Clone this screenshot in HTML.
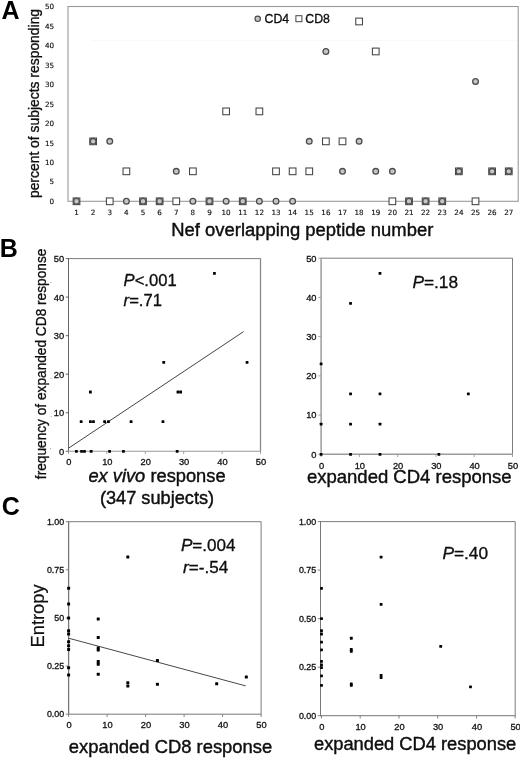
<!DOCTYPE html>
<html lang="en">
<head>
<meta charset="utf-8">
<title>Figure</title>
<style>
html,body{margin:0;padding:0;background:#fff;}
svg{display:block;will-change:transform;}
</style>
</head>
<body>
<svg width="520" height="758" viewBox="0 0 520 758">
<rect width="520" height="758" fill="#fff"/>
<rect x="68.0" y="6.5" width="450.20000000000005" height="194.8" fill="none" stroke="#9a9a9a" stroke-width="1.1"/>
<text x="54.2" y="203.9" font-family='"DejaVu Sans", "Liberation Sans", sans-serif' font-size="7.2" text-anchor="end" fill="#111" stroke="#111" stroke-width="0.15">0</text>
<text x="54.2" y="184.4" font-family='"DejaVu Sans", "Liberation Sans", sans-serif' font-size="7.2" text-anchor="end" fill="#111" stroke="#111" stroke-width="0.15">5</text>
<text x="54.2" y="164.9" font-family='"DejaVu Sans", "Liberation Sans", sans-serif' font-size="7.2" text-anchor="end" fill="#111" stroke="#111" stroke-width="0.15">10</text>
<text x="54.2" y="145.5" font-family='"DejaVu Sans", "Liberation Sans", sans-serif' font-size="7.2" text-anchor="end" fill="#111" stroke="#111" stroke-width="0.15">15</text>
<text x="54.2" y="126.0" font-family='"DejaVu Sans", "Liberation Sans", sans-serif' font-size="7.2" text-anchor="end" fill="#111" stroke="#111" stroke-width="0.15">20</text>
<text x="54.2" y="106.5" font-family='"DejaVu Sans", "Liberation Sans", sans-serif' font-size="7.2" text-anchor="end" fill="#111" stroke="#111" stroke-width="0.15">25</text>
<text x="54.2" y="87.0" font-family='"DejaVu Sans", "Liberation Sans", sans-serif' font-size="7.2" text-anchor="end" fill="#111" stroke="#111" stroke-width="0.15">30</text>
<text x="54.2" y="67.5" font-family='"DejaVu Sans", "Liberation Sans", sans-serif' font-size="7.2" text-anchor="end" fill="#111" stroke="#111" stroke-width="0.15">35</text>
<text x="54.2" y="48.1" font-family='"DejaVu Sans", "Liberation Sans", sans-serif' font-size="7.2" text-anchor="end" fill="#111" stroke="#111" stroke-width="0.15">40</text>
<text x="54.2" y="28.6" font-family='"DejaVu Sans", "Liberation Sans", sans-serif' font-size="7.2" text-anchor="end" fill="#111" stroke="#111" stroke-width="0.15">45</text>
<text x="54.2" y="9.1" font-family='"DejaVu Sans", "Liberation Sans", sans-serif' font-size="7.2" text-anchor="end" fill="#111" stroke="#111" stroke-width="0.15">50</text>
<text x="76.5" y="214.8" font-family='"DejaVu Sans", "Liberation Sans", sans-serif' font-size="7.2" text-anchor="middle" fill="#111" stroke="#111" stroke-width="0.15">1</text>
<text x="93.1" y="214.8" font-family='"DejaVu Sans", "Liberation Sans", sans-serif' font-size="7.2" text-anchor="middle" fill="#111" stroke="#111" stroke-width="0.15">2</text>
<text x="109.8" y="214.8" font-family='"DejaVu Sans", "Liberation Sans", sans-serif' font-size="7.2" text-anchor="middle" fill="#111" stroke="#111" stroke-width="0.15">3</text>
<text x="126.4" y="214.8" font-family='"DejaVu Sans", "Liberation Sans", sans-serif' font-size="7.2" text-anchor="middle" fill="#111" stroke="#111" stroke-width="0.15">4</text>
<text x="143.0" y="214.8" font-family='"DejaVu Sans", "Liberation Sans", sans-serif' font-size="7.2" text-anchor="middle" fill="#111" stroke="#111" stroke-width="0.15">5</text>
<text x="159.6" y="214.8" font-family='"DejaVu Sans", "Liberation Sans", sans-serif' font-size="7.2" text-anchor="middle" fill="#111" stroke="#111" stroke-width="0.15">6</text>
<text x="176.2" y="214.8" font-family='"DejaVu Sans", "Liberation Sans", sans-serif' font-size="7.2" text-anchor="middle" fill="#111" stroke="#111" stroke-width="0.15">7</text>
<text x="192.9" y="214.8" font-family='"DejaVu Sans", "Liberation Sans", sans-serif' font-size="7.2" text-anchor="middle" fill="#111" stroke="#111" stroke-width="0.15">8</text>
<text x="209.5" y="214.8" font-family='"DejaVu Sans", "Liberation Sans", sans-serif' font-size="7.2" text-anchor="middle" fill="#111" stroke="#111" stroke-width="0.15">9</text>
<text x="226.1" y="214.8" font-family='"DejaVu Sans", "Liberation Sans", sans-serif' font-size="7.2" text-anchor="middle" fill="#111" stroke="#111" stroke-width="0.15">10</text>
<text x="242.8" y="214.8" font-family='"DejaVu Sans", "Liberation Sans", sans-serif' font-size="7.2" text-anchor="middle" fill="#111" stroke="#111" stroke-width="0.15">11</text>
<text x="259.4" y="214.8" font-family='"DejaVu Sans", "Liberation Sans", sans-serif' font-size="7.2" text-anchor="middle" fill="#111" stroke="#111" stroke-width="0.15">12</text>
<text x="276.0" y="214.8" font-family='"DejaVu Sans", "Liberation Sans", sans-serif' font-size="7.2" text-anchor="middle" fill="#111" stroke="#111" stroke-width="0.15">13</text>
<text x="292.6" y="214.8" font-family='"DejaVu Sans", "Liberation Sans", sans-serif' font-size="7.2" text-anchor="middle" fill="#111" stroke="#111" stroke-width="0.15">14</text>
<text x="309.2" y="214.8" font-family='"DejaVu Sans", "Liberation Sans", sans-serif' font-size="7.2" text-anchor="middle" fill="#111" stroke="#111" stroke-width="0.15">15</text>
<text x="325.9" y="214.8" font-family='"DejaVu Sans", "Liberation Sans", sans-serif' font-size="7.2" text-anchor="middle" fill="#111" stroke="#111" stroke-width="0.15">16</text>
<text x="342.5" y="214.8" font-family='"DejaVu Sans", "Liberation Sans", sans-serif' font-size="7.2" text-anchor="middle" fill="#111" stroke="#111" stroke-width="0.15">17</text>
<text x="359.1" y="214.8" font-family='"DejaVu Sans", "Liberation Sans", sans-serif' font-size="7.2" text-anchor="middle" fill="#111" stroke="#111" stroke-width="0.15">18</text>
<text x="375.8" y="214.8" font-family='"DejaVu Sans", "Liberation Sans", sans-serif' font-size="7.2" text-anchor="middle" fill="#111" stroke="#111" stroke-width="0.15">19</text>
<text x="392.4" y="214.8" font-family='"DejaVu Sans", "Liberation Sans", sans-serif' font-size="7.2" text-anchor="middle" fill="#111" stroke="#111" stroke-width="0.15">20</text>
<text x="409.0" y="214.8" font-family='"DejaVu Sans", "Liberation Sans", sans-serif' font-size="7.2" text-anchor="middle" fill="#111" stroke="#111" stroke-width="0.15">21</text>
<text x="425.6" y="214.8" font-family='"DejaVu Sans", "Liberation Sans", sans-serif' font-size="7.2" text-anchor="middle" fill="#111" stroke="#111" stroke-width="0.15">22</text>
<text x="442.2" y="214.8" font-family='"DejaVu Sans", "Liberation Sans", sans-serif' font-size="7.2" text-anchor="middle" fill="#111" stroke="#111" stroke-width="0.15">23</text>
<text x="458.9" y="214.8" font-family='"DejaVu Sans", "Liberation Sans", sans-serif' font-size="7.2" text-anchor="middle" fill="#111" stroke="#111" stroke-width="0.15">24</text>
<text x="475.5" y="214.8" font-family='"DejaVu Sans", "Liberation Sans", sans-serif' font-size="7.2" text-anchor="middle" fill="#111" stroke="#111" stroke-width="0.15">25</text>
<text x="492.1" y="214.8" font-family='"DejaVu Sans", "Liberation Sans", sans-serif' font-size="7.2" text-anchor="middle" fill="#111" stroke="#111" stroke-width="0.15">26</text>
<text x="508.8" y="214.8" font-family='"DejaVu Sans", "Liberation Sans", sans-serif' font-size="7.2" text-anchor="middle" fill="#111" stroke="#111" stroke-width="0.15">27</text>
<rect x="73.15" y="197.95" width="6.7" height="6.7" fill="#fff" stroke="#444" stroke-width="1.05"/>
<rect x="89.78" y="138.01" width="6.7" height="6.7" fill="#fff" stroke="#444" stroke-width="1.05"/>
<rect x="106.40" y="197.95" width="6.7" height="6.7" fill="#fff" stroke="#444" stroke-width="1.05"/>
<rect x="123.03" y="167.98" width="6.7" height="6.7" fill="#fff" stroke="#444" stroke-width="1.05"/>
<rect x="139.65" y="197.95" width="6.7" height="6.7" fill="#fff" stroke="#444" stroke-width="1.05"/>
<rect x="156.28" y="197.95" width="6.7" height="6.7" fill="#fff" stroke="#444" stroke-width="1.05"/>
<rect x="172.90" y="197.95" width="6.7" height="6.7" fill="#fff" stroke="#444" stroke-width="1.05"/>
<rect x="189.53" y="167.98" width="6.7" height="6.7" fill="#fff" stroke="#444" stroke-width="1.05"/>
<rect x="206.15" y="197.95" width="6.7" height="6.7" fill="#fff" stroke="#444" stroke-width="1.05"/>
<rect x="222.78" y="108.04" width="6.7" height="6.7" fill="#fff" stroke="#444" stroke-width="1.05"/>
<rect x="239.40" y="197.95" width="6.7" height="6.7" fill="#fff" stroke="#444" stroke-width="1.05"/>
<rect x="256.02" y="108.04" width="6.7" height="6.7" fill="#fff" stroke="#444" stroke-width="1.05"/>
<rect x="272.65" y="167.98" width="6.7" height="6.7" fill="#fff" stroke="#444" stroke-width="1.05"/>
<rect x="289.27" y="167.98" width="6.7" height="6.7" fill="#fff" stroke="#444" stroke-width="1.05"/>
<rect x="305.90" y="167.98" width="6.7" height="6.7" fill="#fff" stroke="#444" stroke-width="1.05"/>
<rect x="322.52" y="138.01" width="6.7" height="6.7" fill="#fff" stroke="#444" stroke-width="1.05"/>
<rect x="339.15" y="138.01" width="6.7" height="6.7" fill="#fff" stroke="#444" stroke-width="1.05"/>
<rect x="355.77" y="18.13" width="6.7" height="6.7" fill="#fff" stroke="#444" stroke-width="1.05"/>
<rect x="372.40" y="48.10" width="6.7" height="6.7" fill="#fff" stroke="#444" stroke-width="1.05"/>
<rect x="389.02" y="197.95" width="6.7" height="6.7" fill="#fff" stroke="#444" stroke-width="1.05"/>
<rect x="405.65" y="197.95" width="6.7" height="6.7" fill="#fff" stroke="#444" stroke-width="1.05"/>
<rect x="422.27" y="197.95" width="6.7" height="6.7" fill="#fff" stroke="#444" stroke-width="1.05"/>
<rect x="438.90" y="197.95" width="6.7" height="6.7" fill="#fff" stroke="#444" stroke-width="1.05"/>
<rect x="455.52" y="167.98" width="6.7" height="6.7" fill="#fff" stroke="#444" stroke-width="1.05"/>
<rect x="472.15" y="197.95" width="6.7" height="6.7" fill="#fff" stroke="#444" stroke-width="1.05"/>
<rect x="488.77" y="167.98" width="6.7" height="6.7" fill="#fff" stroke="#444" stroke-width="1.05"/>
<rect x="505.40" y="167.98" width="6.7" height="6.7" fill="#fff" stroke="#444" stroke-width="1.05"/>
<circle cx="76.50" cy="201.30" r="2.85" fill="#c6c6c6" stroke="#4c4c4c" stroke-width="1.3"/>
<circle cx="93.12" cy="141.36" r="2.85" fill="#c6c6c6" stroke="#4c4c4c" stroke-width="1.3"/>
<circle cx="109.75" cy="141.36" r="2.85" fill="#c6c6c6" stroke="#4c4c4c" stroke-width="1.3"/>
<circle cx="126.38" cy="201.30" r="2.85" fill="#c6c6c6" stroke="#4c4c4c" stroke-width="1.3"/>
<circle cx="143.00" cy="201.30" r="2.85" fill="#c6c6c6" stroke="#4c4c4c" stroke-width="1.3"/>
<circle cx="159.62" cy="201.30" r="2.85" fill="#c6c6c6" stroke="#4c4c4c" stroke-width="1.3"/>
<circle cx="176.25" cy="171.33" r="2.85" fill="#c6c6c6" stroke="#4c4c4c" stroke-width="1.3"/>
<circle cx="192.88" cy="201.30" r="2.85" fill="#c6c6c6" stroke="#4c4c4c" stroke-width="1.3"/>
<circle cx="209.50" cy="201.30" r="2.85" fill="#c6c6c6" stroke="#4c4c4c" stroke-width="1.3"/>
<circle cx="226.12" cy="201.30" r="2.85" fill="#c6c6c6" stroke="#4c4c4c" stroke-width="1.3"/>
<circle cx="242.75" cy="201.30" r="2.85" fill="#c6c6c6" stroke="#4c4c4c" stroke-width="1.3"/>
<circle cx="259.38" cy="201.30" r="2.85" fill="#c6c6c6" stroke="#4c4c4c" stroke-width="1.3"/>
<circle cx="276.00" cy="201.30" r="2.85" fill="#c6c6c6" stroke="#4c4c4c" stroke-width="1.3"/>
<circle cx="292.62" cy="201.30" r="2.85" fill="#c6c6c6" stroke="#4c4c4c" stroke-width="1.3"/>
<circle cx="309.25" cy="141.36" r="2.85" fill="#c6c6c6" stroke="#4c4c4c" stroke-width="1.3"/>
<circle cx="325.88" cy="51.45" r="2.85" fill="#c6c6c6" stroke="#4c4c4c" stroke-width="1.3"/>
<circle cx="342.50" cy="171.33" r="2.85" fill="#c6c6c6" stroke="#4c4c4c" stroke-width="1.3"/>
<circle cx="359.12" cy="141.36" r="2.85" fill="#c6c6c6" stroke="#4c4c4c" stroke-width="1.3"/>
<circle cx="375.75" cy="171.33" r="2.85" fill="#c6c6c6" stroke="#4c4c4c" stroke-width="1.3"/>
<circle cx="392.38" cy="171.33" r="2.85" fill="#c6c6c6" stroke="#4c4c4c" stroke-width="1.3"/>
<circle cx="409.00" cy="201.30" r="2.85" fill="#c6c6c6" stroke="#4c4c4c" stroke-width="1.3"/>
<circle cx="425.62" cy="201.30" r="2.85" fill="#c6c6c6" stroke="#4c4c4c" stroke-width="1.3"/>
<circle cx="442.25" cy="201.30" r="2.85" fill="#c6c6c6" stroke="#4c4c4c" stroke-width="1.3"/>
<circle cx="458.88" cy="171.33" r="2.85" fill="#c6c6c6" stroke="#4c4c4c" stroke-width="1.3"/>
<circle cx="475.50" cy="81.42" r="2.85" fill="#c6c6c6" stroke="#4c4c4c" stroke-width="1.3"/>
<circle cx="492.12" cy="171.33" r="2.85" fill="#c6c6c6" stroke="#4c4c4c" stroke-width="1.3"/>
<circle cx="508.75" cy="171.33" r="2.85" fill="#c6c6c6" stroke="#4c4c4c" stroke-width="1.3"/>
<line x1="92" y1="40.5" x2="517" y2="40.5" stroke="#f9f9f9" stroke-width="1"/>
<circle cx="257.7" cy="18.8" r="2.7" fill="#c6c6c6" stroke="#4c4c4c" stroke-width="1.2"/>
<text x="264.5" y="22.7" font-family='"Liberation Sans", Arial, sans-serif' font-size="12.3" text-anchor="start" fill="#111" stroke="#000" stroke-width="0.3">CD4</text>
<rect x="295.9" y="15.7" width="6" height="6" fill="#fff" stroke="#444" stroke-width="1"/>
<text x="305.3" y="22.7" font-family='"Liberation Sans", Arial, sans-serif' font-size="12.3" text-anchor="start" fill="#111" stroke="#000" stroke-width="0.3">CD8</text>
<text transform="translate(38.6,103.5) rotate(-90)" font-family='"Liberation Sans", Arial, sans-serif' font-size="13.9" text-anchor="middle" fill="#111" stroke="#000" stroke-width="0.3">percent of subjects responding</text>
<text x="302.3" y="235.6" font-family='"Liberation Sans", Arial, sans-serif' font-size="18.42" text-anchor="middle" fill="#111" stroke="#000" stroke-width="0.38">Nef overlapping peptide number</text>
<text x="1.5" y="19.2" font-family='"Liberation Sans", Arial, sans-serif' font-size="25" font-weight="bold" fill="#000">A</text>
<text x="-0.2" y="257" font-family='"Liberation Sans", Arial, sans-serif' font-size="25" font-weight="bold" fill="#000">B</text>
<text x="1.8" y="515" font-family='"Liberation Sans", Arial, sans-serif' font-size="25" font-weight="bold" fill="#000">C</text>
<path d="M68.5 258.6H260.5" fill="none" stroke="#6e6e6e" stroke-width="0.9"/>
<path d="M260.5 258.20000000000005V451.3" fill="none" stroke="#8a8a8a" stroke-width="1.3"/>
<path d="M68.5 258.20000000000005V451.8" fill="none" stroke="#555" stroke-width="0.9"/>
<path d="M68.0 451.3H260.9" fill="none" stroke="#999" stroke-width="1.1"/>
<line x1="65.7" y1="451.3" x2="68.5" y2="451.3" stroke="#555" stroke-width="0.9"/>
<text x="64.1" y="454.6" font-family='"Liberation Sans", Arial, sans-serif' font-size="9.3" text-anchor="end" fill="#111" stroke="#111" stroke-width="0.3">0</text>
<line x1="65.7" y1="412.8" x2="68.5" y2="412.8" stroke="#555" stroke-width="0.9"/>
<text x="64.1" y="416.1" font-family='"Liberation Sans", Arial, sans-serif' font-size="9.3" text-anchor="end" fill="#111" stroke="#111" stroke-width="0.3">10</text>
<line x1="65.7" y1="374.2" x2="68.5" y2="374.2" stroke="#555" stroke-width="0.9"/>
<text x="64.1" y="377.5" font-family='"Liberation Sans", Arial, sans-serif' font-size="9.3" text-anchor="end" fill="#111" stroke="#111" stroke-width="0.3">20</text>
<line x1="65.7" y1="335.7" x2="68.5" y2="335.7" stroke="#555" stroke-width="0.9"/>
<text x="64.1" y="339.0" font-family='"Liberation Sans", Arial, sans-serif' font-size="9.3" text-anchor="end" fill="#111" stroke="#111" stroke-width="0.3">30</text>
<line x1="65.7" y1="297.1" x2="68.5" y2="297.1" stroke="#555" stroke-width="0.9"/>
<text x="64.1" y="300.5" font-family='"Liberation Sans", Arial, sans-serif' font-size="9.3" text-anchor="end" fill="#111" stroke="#111" stroke-width="0.3">40</text>
<line x1="65.7" y1="258.6" x2="68.5" y2="258.6" stroke="#555" stroke-width="0.9"/>
<text x="64.1" y="261.9" font-family='"Liberation Sans", Arial, sans-serif' font-size="9.3" text-anchor="end" fill="#111" stroke="#111" stroke-width="0.3">50</text>
<line x1="68.5" y1="451.3" x2="68.5" y2="454.1" stroke="#999" stroke-width="0.9"/>
<text x="68.9" y="465.0" font-family='"Liberation Sans", Arial, sans-serif' font-size="9.3" text-anchor="middle" fill="#111" stroke="#111" stroke-width="0.3">0</text>
<line x1="106.9" y1="451.3" x2="106.9" y2="454.1" stroke="#999" stroke-width="0.9"/>
<text x="107.3" y="465.0" font-family='"Liberation Sans", Arial, sans-serif' font-size="9.3" text-anchor="middle" fill="#111" stroke="#111" stroke-width="0.3">10</text>
<line x1="145.3" y1="451.3" x2="145.3" y2="454.1" stroke="#999" stroke-width="0.9"/>
<text x="145.7" y="465.0" font-family='"Liberation Sans", Arial, sans-serif' font-size="9.3" text-anchor="middle" fill="#111" stroke="#111" stroke-width="0.3">20</text>
<line x1="183.7" y1="451.3" x2="183.7" y2="454.1" stroke="#999" stroke-width="0.9"/>
<text x="184.1" y="465.0" font-family='"Liberation Sans", Arial, sans-serif' font-size="9.3" text-anchor="middle" fill="#111" stroke="#111" stroke-width="0.3">30</text>
<line x1="222.1" y1="451.3" x2="222.1" y2="454.1" stroke="#999" stroke-width="0.9"/>
<text x="222.5" y="465.0" font-family='"Liberation Sans", Arial, sans-serif' font-size="9.3" text-anchor="middle" fill="#111" stroke="#111" stroke-width="0.3">40</text>
<line x1="260.5" y1="451.3" x2="260.5" y2="454.1" stroke="#999" stroke-width="0.9"/>
<text x="260.9" y="465.0" font-family='"Liberation Sans", Arial, sans-serif' font-size="9.3" text-anchor="middle" fill="#111" stroke="#111" stroke-width="0.3">50</text>
<line x1="68.5" y1="448.2" x2="243.6" y2="331.6" stroke="#444" stroke-width="1.0"/>
<rect x="74.97" y="449.90" width="2.8" height="2.8" rx="0.5" fill="#000"/>
<rect x="80.16" y="449.90" width="2.8" height="2.8" rx="0.5" fill="#000"/>
<rect x="83.04" y="449.90" width="2.8" height="2.8" rx="0.5" fill="#000"/>
<rect x="89.76" y="449.90" width="2.8" height="2.8" rx="0.5" fill="#000"/>
<rect x="108.19" y="449.90" width="2.8" height="2.8" rx="0.5" fill="#000"/>
<rect x="122.01" y="449.90" width="2.8" height="2.8" rx="0.5" fill="#000"/>
<rect x="175.77" y="449.90" width="2.8" height="2.8" rx="0.5" fill="#000"/>
<rect x="79.77" y="420.25" width="2.8" height="2.8" rx="0.5" fill="#000"/>
<rect x="88.99" y="420.25" width="2.8" height="2.8" rx="0.5" fill="#000"/>
<rect x="92.06" y="420.25" width="2.8" height="2.8" rx="0.5" fill="#000"/>
<rect x="103.20" y="420.25" width="2.8" height="2.8" rx="0.5" fill="#000"/>
<rect x="107.04" y="420.25" width="2.8" height="2.8" rx="0.5" fill="#000"/>
<rect x="129.69" y="420.25" width="2.8" height="2.8" rx="0.5" fill="#000"/>
<rect x="161.56" y="420.25" width="2.8" height="2.8" rx="0.5" fill="#000"/>
<rect x="88.99" y="390.61" width="2.8" height="2.8" rx="0.5" fill="#000"/>
<rect x="176.54" y="390.61" width="2.8" height="2.8" rx="0.5" fill="#000"/>
<rect x="179.23" y="390.61" width="2.8" height="2.8" rx="0.5" fill="#000"/>
<rect x="162.33" y="360.96" width="2.8" height="2.8" rx="0.5" fill="#000"/>
<rect x="245.66" y="360.96" width="2.8" height="2.8" rx="0.5" fill="#000"/>
<rect x="213.02" y="272.02" width="2.8" height="2.8" rx="0.5" fill="#000"/>
<text x="123.6" y="286.2" font-family='"Liberation Sans", Arial, sans-serif' font-size="16.6" text-anchor="start" fill="#111" stroke="#000" stroke-width="0.3"><tspan font-style="italic">P</tspan>&lt;.001</text>
<text x="123.6" y="306.4" font-family='"Liberation Sans", Arial, sans-serif' font-size="16.6" text-anchor="start" fill="#111" stroke="#000" stroke-width="0.3"><tspan font-style="italic">r</tspan>=.71</text>
<text transform="translate(46.2,363.9) rotate(-90)" font-family='"Liberation Sans", Arial, sans-serif' font-size="14.6" text-anchor="middle" textLength="230.5" lengthAdjust="spacingAndGlyphs" fill="#111" stroke="#000" stroke-width="0.3">frequency of expanded CD8 response</text>
<text x="157" y="482" font-family='"Liberation Sans", Arial, sans-serif' font-size="18.3" text-anchor="middle" fill="#111" stroke="#000" stroke-width="0.38"><tspan font-style="italic">ex vivo</tspan> response</text>
<text x="157" y="504.3" font-family='"Liberation Sans", Arial, sans-serif' font-size="18.2" text-anchor="middle" fill="#111" stroke="#000" stroke-width="0.38">(347 subjects)</text>
<rect x="50.5" y="282.0" width="1" height="1" fill="#999"/>
<rect x="50.7" y="416.2" width="1" height="1" fill="#999"/>
<rect x="50.1" y="448.1" width="1" height="1" fill="#999"/>
<rect x="50.5" y="377.8" width="1" height="1" fill="#999"/>
<path d="M321.1 258.2H512.5V454.3" fill="none" stroke="#6e6e6e" stroke-width="0.9"/>
<path d="M321.1 257.8V454.8" fill="none" stroke="#9c9c9c" stroke-width="1.5"/>
<path d="M320.6 454.3H512.9" fill="none" stroke="#9c9c9c" stroke-width="1.5"/>
<line x1="318.3" y1="454.3" x2="321.1" y2="454.3" stroke="#9c9c9c" stroke-width="0.9"/>
<text x="316.5" y="457.6" font-family='"Liberation Sans", Arial, sans-serif' font-size="9.3" text-anchor="end" fill="#111" stroke="#111" stroke-width="0.3">0</text>
<line x1="318.3" y1="415.1" x2="321.1" y2="415.1" stroke="#9c9c9c" stroke-width="0.9"/>
<text x="316.5" y="418.4" font-family='"Liberation Sans", Arial, sans-serif' font-size="9.3" text-anchor="end" fill="#111" stroke="#111" stroke-width="0.3">10</text>
<line x1="318.3" y1="375.9" x2="321.1" y2="375.9" stroke="#9c9c9c" stroke-width="0.9"/>
<text x="316.5" y="379.2" font-family='"Liberation Sans", Arial, sans-serif' font-size="9.3" text-anchor="end" fill="#111" stroke="#111" stroke-width="0.3">20</text>
<line x1="318.3" y1="336.6" x2="321.1" y2="336.6" stroke="#9c9c9c" stroke-width="0.9"/>
<text x="316.5" y="340.0" font-family='"Liberation Sans", Arial, sans-serif' font-size="9.3" text-anchor="end" fill="#111" stroke="#111" stroke-width="0.3">30</text>
<line x1="318.3" y1="297.4" x2="321.1" y2="297.4" stroke="#9c9c9c" stroke-width="0.9"/>
<text x="316.5" y="300.7" font-family='"Liberation Sans", Arial, sans-serif' font-size="9.3" text-anchor="end" fill="#111" stroke="#111" stroke-width="0.3">40</text>
<line x1="318.3" y1="258.2" x2="321.1" y2="258.2" stroke="#9c9c9c" stroke-width="0.9"/>
<text x="316.5" y="261.5" font-family='"Liberation Sans", Arial, sans-serif' font-size="9.3" text-anchor="end" fill="#111" stroke="#111" stroke-width="0.3">50</text>
<line x1="321.1" y1="454.3" x2="321.1" y2="457.1" stroke="#9c9c9c" stroke-width="0.9"/>
<text x="321.5" y="468.7" font-family='"Liberation Sans", Arial, sans-serif' font-size="9.3" text-anchor="middle" fill="#111" stroke="#111" stroke-width="0.3">0</text>
<line x1="359.4" y1="454.3" x2="359.4" y2="457.1" stroke="#9c9c9c" stroke-width="0.9"/>
<text x="359.8" y="468.7" font-family='"Liberation Sans", Arial, sans-serif' font-size="9.3" text-anchor="middle" fill="#111" stroke="#111" stroke-width="0.3">10</text>
<line x1="397.7" y1="454.3" x2="397.7" y2="457.1" stroke="#9c9c9c" stroke-width="0.9"/>
<text x="398.1" y="468.7" font-family='"Liberation Sans", Arial, sans-serif' font-size="9.3" text-anchor="middle" fill="#111" stroke="#111" stroke-width="0.3">20</text>
<line x1="435.9" y1="454.3" x2="435.9" y2="457.1" stroke="#9c9c9c" stroke-width="0.9"/>
<text x="436.3" y="468.7" font-family='"Liberation Sans", Arial, sans-serif' font-size="9.3" text-anchor="middle" fill="#111" stroke="#111" stroke-width="0.3">30</text>
<line x1="474.2" y1="454.3" x2="474.2" y2="457.1" stroke="#9c9c9c" stroke-width="0.9"/>
<text x="474.6" y="468.7" font-family='"Liberation Sans", Arial, sans-serif' font-size="9.3" text-anchor="middle" fill="#111" stroke="#111" stroke-width="0.3">40</text>
<line x1="512.5" y1="454.3" x2="512.5" y2="457.1" stroke="#9c9c9c" stroke-width="0.9"/>
<text x="512.9" y="468.7" font-family='"Liberation Sans", Arial, sans-serif' font-size="9.3" text-anchor="middle" fill="#111" stroke="#111" stroke-width="0.3">50</text>
<rect x="319.70" y="362.39" width="2.8" height="2.8" rx="0.5" fill="#000"/>
<rect x="319.70" y="422.73" width="2.8" height="2.8" rx="0.5" fill="#000"/>
<rect x="319.70" y="452.90" width="2.8" height="2.8" rx="0.5" fill="#000"/>
<rect x="349.15" y="302.05" width="2.8" height="2.8" rx="0.5" fill="#000"/>
<rect x="349.15" y="392.56" width="2.8" height="2.8" rx="0.5" fill="#000"/>
<rect x="349.15" y="422.73" width="2.8" height="2.8" rx="0.5" fill="#000"/>
<rect x="349.15" y="452.90" width="2.8" height="2.8" rx="0.5" fill="#000"/>
<rect x="378.59" y="271.88" width="2.8" height="2.8" rx="0.5" fill="#000"/>
<rect x="378.59" y="392.56" width="2.8" height="2.8" rx="0.5" fill="#000"/>
<rect x="378.59" y="422.73" width="2.8" height="2.8" rx="0.5" fill="#000"/>
<rect x="378.59" y="452.90" width="2.8" height="2.8" rx="0.5" fill="#000"/>
<rect x="437.48" y="452.90" width="2.8" height="2.8" rx="0.5" fill="#000"/>
<rect x="466.93" y="392.56" width="2.8" height="2.8" rx="0.5" fill="#000"/>
<text x="412.4" y="288.1" font-family='"Liberation Sans", Arial, sans-serif' font-size="17.3" text-anchor="start" fill="#111" stroke="#000" stroke-width="0.3"><tspan font-style="italic">P</tspan>=.18</text>
<text x="409.3" y="482.6" font-family='"Liberation Sans", Arial, sans-serif' font-size="18.5" text-anchor="middle" fill="#111" stroke="#000" stroke-width="0.38">expanded CD4 response</text>
<path d="M68.6 521.7H261.1V714.2" fill="none" stroke="#6e6e6e" stroke-width="0.9"/>
<path d="M68.6 521.3000000000001V714.7" fill="none" stroke="#777" stroke-width="1.3"/>
<path d="M68.1 714.2H261.5" fill="none" stroke="#777" stroke-width="1.0"/>
<line x1="65.8" y1="714.2" x2="68.6" y2="714.2" stroke="#777" stroke-width="0.9"/>
<text x="64.2" y="717.4" font-family='"Liberation Sans", Arial, sans-serif' font-size="8.9" text-anchor="end" fill="#111" stroke="#111" stroke-width="0.3">0.00</text>
<line x1="65.8" y1="666.1" x2="68.6" y2="666.1" stroke="#777" stroke-width="0.9"/>
<text x="64.2" y="669.3" font-family='"Liberation Sans", Arial, sans-serif' font-size="8.9" text-anchor="end" fill="#111" stroke="#111" stroke-width="0.3">0.25</text>
<line x1="65.8" y1="618.0" x2="68.6" y2="618.0" stroke="#777" stroke-width="0.9"/>
<text x="64.2" y="621.1" font-family='"Liberation Sans", Arial, sans-serif' font-size="8.9" text-anchor="end" fill="#111" stroke="#111" stroke-width="0.3">50</text>
<line x1="65.8" y1="569.8" x2="68.6" y2="569.8" stroke="#777" stroke-width="0.9"/>
<text x="64.2" y="573.0" font-family='"Liberation Sans", Arial, sans-serif' font-size="8.9" text-anchor="end" fill="#111" stroke="#111" stroke-width="0.3">0.75</text>
<line x1="65.8" y1="521.7" x2="68.6" y2="521.7" stroke="#777" stroke-width="0.9"/>
<text x="64.2" y="524.9" font-family='"Liberation Sans", Arial, sans-serif' font-size="8.9" text-anchor="end" fill="#111" stroke="#111" stroke-width="0.3">1.00</text>
<line x1="68.6" y1="714.2" x2="68.6" y2="717.0" stroke="#777" stroke-width="0.9"/>
<text x="69.0" y="728.4" font-family='"Liberation Sans", Arial, sans-serif' font-size="9.3" text-anchor="middle" fill="#111" stroke="#111" stroke-width="0.3">0</text>
<line x1="107.1" y1="714.2" x2="107.1" y2="717.0" stroke="#777" stroke-width="0.9"/>
<text x="107.5" y="728.4" font-family='"Liberation Sans", Arial, sans-serif' font-size="9.3" text-anchor="middle" fill="#111" stroke="#111" stroke-width="0.3">10</text>
<line x1="145.6" y1="714.2" x2="145.6" y2="717.0" stroke="#777" stroke-width="0.9"/>
<text x="146.0" y="728.4" font-family='"Liberation Sans", Arial, sans-serif' font-size="9.3" text-anchor="middle" fill="#111" stroke="#111" stroke-width="0.3">20</text>
<line x1="184.1" y1="714.2" x2="184.1" y2="717.0" stroke="#777" stroke-width="0.9"/>
<text x="184.5" y="728.4" font-family='"Liberation Sans", Arial, sans-serif' font-size="9.3" text-anchor="middle" fill="#111" stroke="#111" stroke-width="0.3">30</text>
<line x1="222.6" y1="714.2" x2="222.6" y2="717.0" stroke="#777" stroke-width="0.9"/>
<text x="223.0" y="728.4" font-family='"Liberation Sans", Arial, sans-serif' font-size="9.3" text-anchor="middle" fill="#111" stroke="#111" stroke-width="0.3">40</text>
<line x1="261.1" y1="714.2" x2="261.1" y2="717.0" stroke="#777" stroke-width="0.9"/>
<text x="261.5" y="728.4" font-family='"Liberation Sans", Arial, sans-serif' font-size="9.3" text-anchor="middle" fill="#111" stroke="#111" stroke-width="0.3">50</text>
<line x1="68.6" y1="638.2" x2="245.7" y2="685.9" stroke="#484848" stroke-width="1.0"/>
<rect x="67.10" y="586.81" width="3.0" height="3.0" rx="0.5" fill="#000"/>
<rect x="67.10" y="602.40" width="3.0" height="3.0" rx="0.5" fill="#000"/>
<rect x="67.10" y="616.45" width="3.0" height="3.0" rx="0.5" fill="#000"/>
<rect x="67.10" y="629.35" width="3.0" height="3.0" rx="0.5" fill="#000"/>
<rect x="67.10" y="632.43" width="3.0" height="3.0" rx="0.5" fill="#000"/>
<rect x="67.10" y="640.32" width="3.0" height="3.0" rx="0.5" fill="#000"/>
<rect x="67.10" y="644.36" width="3.0" height="3.0" rx="0.5" fill="#000"/>
<rect x="67.10" y="648.02" width="3.0" height="3.0" rx="0.5" fill="#000"/>
<rect x="67.10" y="666.31" width="3.0" height="3.0" rx="0.5" fill="#000"/>
<rect x="67.10" y="673.43" width="3.0" height="3.0" rx="0.5" fill="#000"/>
<rect x="96.72" y="617.61" width="3.0" height="3.0" rx="0.5" fill="#000"/>
<rect x="96.72" y="636.09" width="3.0" height="3.0" rx="0.5" fill="#000"/>
<rect x="96.72" y="646.48" width="3.0" height="3.0" rx="0.5" fill="#000"/>
<rect x="96.72" y="648.60" width="3.0" height="3.0" rx="0.5" fill="#000"/>
<rect x="96.72" y="659.96" width="3.0" height="3.0" rx="0.5" fill="#000"/>
<rect x="96.72" y="662.84" width="3.0" height="3.0" rx="0.5" fill="#000"/>
<rect x="96.72" y="672.66" width="3.0" height="3.0" rx="0.5" fill="#000"/>
<rect x="126.33" y="555.62" width="3.0" height="3.0" rx="0.5" fill="#000"/>
<rect x="126.33" y="681.32" width="3.0" height="3.0" rx="0.5" fill="#000"/>
<rect x="126.33" y="684.40" width="3.0" height="3.0" rx="0.5" fill="#000"/>
<rect x="155.95" y="658.99" width="3.0" height="3.0" rx="0.5" fill="#000"/>
<rect x="155.95" y="682.86" width="3.0" height="3.0" rx="0.5" fill="#000"/>
<rect x="215.18" y="682.29" width="3.0" height="3.0" rx="0.5" fill="#000"/>
<rect x="244.79" y="675.55" width="3.0" height="3.0" rx="0.5" fill="#000"/>
<text x="180.9" y="551" font-family='"Liberation Sans", Arial, sans-serif' font-size="17.1" text-anchor="start" fill="#111" stroke="#000" stroke-width="0.3"><tspan font-style="italic">P</tspan>=.004</text>
<text x="183" y="572.5" font-family='"Liberation Sans", Arial, sans-serif' font-size="17.1" text-anchor="start" fill="#111" stroke="#000" stroke-width="0.3"><tspan font-style="italic">r</tspan>=-.54</text>
<text transform="translate(43.5,615.9) rotate(-90)" font-family='"Liberation Sans", Arial, sans-serif' font-size="18.8" text-anchor="middle" textLength="63" lengthAdjust="spacingAndGlyphs" fill="#111" stroke="#000" stroke-width="0.2">Entropy</text>
<text x="170.5" y="753.1" font-family='"Liberation Sans", Arial, sans-serif' font-size="18.4" text-anchor="middle" fill="#111" stroke="#000" stroke-width="0.38">expanded CD8 response</text>
<path d="M320.5 521.6H515.2V715.7" fill="none" stroke="#6e6e6e" stroke-width="0.9"/>
<path d="M320.5 521.2V716.2" fill="none" stroke="#777" stroke-width="1.0"/>
<path d="M320.0 715.7H515.6" fill="none" stroke="#777" stroke-width="1.0"/>
<line x1="317.7" y1="715.7" x2="320.5" y2="715.7" stroke="#777" stroke-width="0.9"/>
<text x="316.2" y="718.9" font-family='"Liberation Sans", Arial, sans-serif' font-size="8.9" text-anchor="end" fill="#111" stroke="#111" stroke-width="0.3">0.00</text>
<line x1="317.7" y1="667.2" x2="320.5" y2="667.2" stroke="#777" stroke-width="0.9"/>
<text x="316.2" y="670.4" font-family='"Liberation Sans", Arial, sans-serif' font-size="8.9" text-anchor="end" fill="#111" stroke="#111" stroke-width="0.3">0.25</text>
<line x1="317.7" y1="618.7" x2="320.5" y2="618.7" stroke="#777" stroke-width="0.9"/>
<text x="316.2" y="621.8" font-family='"Liberation Sans", Arial, sans-serif' font-size="8.9" text-anchor="end" fill="#111" stroke="#111" stroke-width="0.3">0.50</text>
<line x1="317.7" y1="570.1" x2="320.5" y2="570.1" stroke="#777" stroke-width="0.9"/>
<text x="316.2" y="573.3" font-family='"Liberation Sans", Arial, sans-serif' font-size="8.9" text-anchor="end" fill="#111" stroke="#111" stroke-width="0.3">0.75</text>
<line x1="317.7" y1="521.6" x2="320.5" y2="521.6" stroke="#777" stroke-width="0.9"/>
<text x="316.2" y="524.8" font-family='"Liberation Sans", Arial, sans-serif' font-size="8.9" text-anchor="end" fill="#111" stroke="#111" stroke-width="0.3">1.00</text>
<line x1="321.5" y1="715.7" x2="321.5" y2="718.5" stroke="#777" stroke-width="0.9"/>
<text x="321.9" y="730.1" font-family='"Liberation Sans", Arial, sans-serif' font-size="9.3" text-anchor="middle" fill="#111" stroke="#111" stroke-width="0.3">0</text>
<line x1="360.2" y1="715.7" x2="360.2" y2="718.5" stroke="#777" stroke-width="0.9"/>
<text x="360.6" y="730.1" font-family='"Liberation Sans", Arial, sans-serif' font-size="9.3" text-anchor="middle" fill="#111" stroke="#111" stroke-width="0.3">10</text>
<line x1="399.0" y1="715.7" x2="399.0" y2="718.5" stroke="#777" stroke-width="0.9"/>
<text x="399.4" y="730.1" font-family='"Liberation Sans", Arial, sans-serif' font-size="9.3" text-anchor="middle" fill="#111" stroke="#111" stroke-width="0.3">20</text>
<line x1="437.7" y1="715.7" x2="437.7" y2="718.5" stroke="#777" stroke-width="0.9"/>
<text x="438.1" y="730.1" font-family='"Liberation Sans", Arial, sans-serif' font-size="9.3" text-anchor="middle" fill="#111" stroke="#111" stroke-width="0.3">30</text>
<line x1="476.5" y1="715.7" x2="476.5" y2="718.5" stroke="#777" stroke-width="0.9"/>
<text x="476.9" y="730.1" font-family='"Liberation Sans", Arial, sans-serif' font-size="9.3" text-anchor="middle" fill="#111" stroke="#111" stroke-width="0.3">40</text>
<line x1="515.2" y1="715.7" x2="515.2" y2="718.5" stroke="#777" stroke-width="0.9"/>
<text x="515.6" y="730.1" font-family='"Liberation Sans", Arial, sans-serif' font-size="9.3" text-anchor="middle" fill="#111" stroke="#111" stroke-width="0.3">50</text>
<rect x="320.10" y="586.97" width="2.8" height="2.8" rx="0.5" fill="#000"/>
<rect x="320.10" y="617.25" width="2.8" height="2.8" rx="0.5" fill="#000"/>
<rect x="320.10" y="629.28" width="2.8" height="2.8" rx="0.5" fill="#000"/>
<rect x="320.10" y="632.58" width="2.8" height="2.8" rx="0.5" fill="#000"/>
<rect x="320.10" y="640.74" width="2.8" height="2.8" rx="0.5" fill="#000"/>
<rect x="320.10" y="648.50" width="2.8" height="2.8" rx="0.5" fill="#000"/>
<rect x="320.10" y="659.95" width="2.8" height="2.8" rx="0.5" fill="#000"/>
<rect x="320.10" y="663.45" width="2.8" height="2.8" rx="0.5" fill="#000"/>
<rect x="320.10" y="666.16" width="2.8" height="2.8" rx="0.5" fill="#000"/>
<rect x="320.10" y="674.51" width="2.8" height="2.8" rx="0.5" fill="#000"/>
<rect x="320.10" y="684.02" width="2.8" height="2.8" rx="0.5" fill="#000"/>
<rect x="349.90" y="636.85" width="2.8" height="2.8" rx="0.5" fill="#000"/>
<rect x="349.90" y="647.92" width="2.8" height="2.8" rx="0.5" fill="#000"/>
<rect x="349.90" y="649.86" width="2.8" height="2.8" rx="0.5" fill="#000"/>
<rect x="349.90" y="682.47" width="2.8" height="2.8" rx="0.5" fill="#000"/>
<rect x="349.90" y="684.02" width="2.8" height="2.8" rx="0.5" fill="#000"/>
<rect x="379.70" y="555.72" width="2.8" height="2.8" rx="0.5" fill="#000"/>
<rect x="379.70" y="602.89" width="2.8" height="2.8" rx="0.5" fill="#000"/>
<rect x="379.70" y="673.93" width="2.8" height="2.8" rx="0.5" fill="#000"/>
<rect x="379.70" y="676.26" width="2.8" height="2.8" rx="0.5" fill="#000"/>
<rect x="439.30" y="645.01" width="2.8" height="2.8" rx="0.5" fill="#000"/>
<rect x="469.10" y="685.38" width="2.8" height="2.8" rx="0.5" fill="#000"/>
<text x="442.4" y="558.9" font-family='"Liberation Sans", Arial, sans-serif' font-size="17.3" text-anchor="start" fill="#111" stroke="#000" stroke-width="0.3"><tspan font-style="italic">P</tspan>=.40</text>
<text x="415.1" y="750.2" font-family='"Liberation Sans", Arial, sans-serif' font-size="18.3" text-anchor="middle" fill="#111" stroke="#000" stroke-width="0.38">expanded CD4 response</text>
</svg>
</body>
</html>
